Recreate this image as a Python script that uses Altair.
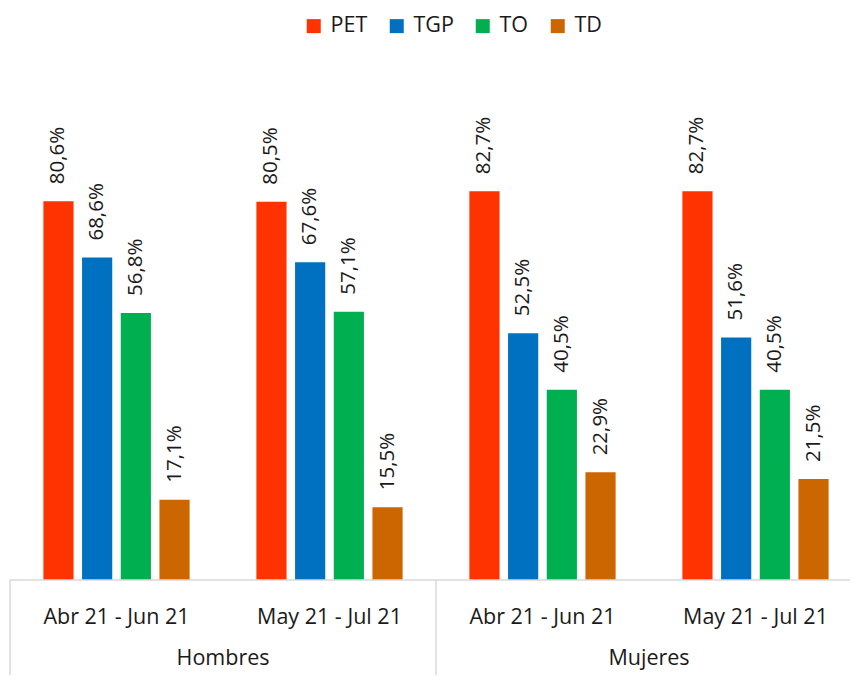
import altair as alt
import pandas as pd

groups = ["Hombres", "Hombres", "Mujeres", "Mujeres"]
periods = ["Abr 21 - Jun 21", "May 21 - Jul 21", "Abr 21 - Jun 21", "May 21 - Jul 21"]
series = ["PET", "TGP", "TO", "TD"]
colors = ["#FF3300", "#0070C0", "#00B050", "#CC6600"]
pet = [80.6, 80.5, 82.7, 82.7]
tgp = [68.6, 67.6, 52.5, 51.6]
to_ = [56.8, 57.1, 40.5, 40.5]
td = [17.1, 15.5, 22.9, 21.5]

keys = [g + "|" + p for g, p in zip(groups, periods)]
vals = {"PET": pet, "TGP": tgp, "TO": to_, "TD": td}

rows = []
for i, k in enumerate(keys):
    for s in series:
        v = vals[s][i]
        rows.append({"key": k, "series": s, "value": v,
                     "label": f"{v:.1f}".replace(".", ",") + "%"})
df = pd.DataFrame(rows)

W, H = 852, 470
FONT = "Open Sans"
TXT = "#1a1a1a"

xs = alt.Scale(domain=keys, paddingInner=0, paddingOuter=0)
ys = alt.Scale(domain=[0, 100])
xo = alt.Scale(domain=series, paddingInner=0.22, paddingOuter=0.863)

base = alt.Chart(df)
bars = base.mark_bar().encode(
    x=alt.X("key:N", scale=xs, axis=None),
    xOffset=alt.XOffset("series:N", scale=xo, sort=series),
    y=alt.Y("value:Q", scale=ys, axis=None),
    color=alt.Color("series:N", sort=series,
                    scale=alt.Scale(domain=series, range=colors),
                    legend=alt.Legend(title=None, orient="none", direction="horizontal",
                                      legendX=293, legendY=-95,
                                      symbolType="square", symbolSize=196,
                                      symbolStrokeWidth=0,
                                      labelFont=FONT, labelFontSize=21.5, labelColor=TXT,
                                      labelOffset=6, columnPadding=18)),
)
labels = base.mark_text(angle=270, align="left", baseline="middle", dx=17,
                        font=FONT, fontSize=20.5, color=TXT).encode(
    x=alt.X("key:N", scale=xs, axis=None),
    xOffset=alt.XOffset("series:N", scale=xo, sort=series),
    y=alt.Y("value:Q", scale=ys, axis=None),
    text="label:N",
)

axis_df = pd.DataFrame({"zero": [0]})
baseline = alt.Chart(axis_df).mark_rule(color="#d9d9d9", strokeWidth=1.5).encode(
    y=alt.Y("zero:Q", scale=ys, axis=None))

sep_df = pd.DataFrame({"key": [keys[0], keys[2]]})
seps = alt.Chart(sep_df).mark_rule(color="#d9d9d9", strokeWidth=1.5).encode(
    x=alt.X("key:N", scale=xs, axis=None, bandPosition=0),
    y=alt.value(H),
    y2=alt.value(H + 95),
)

per_df = pd.DataFrame({"key": keys, "period": periods})
per_text = alt.Chart(per_df).mark_text(font=FONT, fontSize=21.5, color=TXT,
                                       baseline="middle").encode(
    x=alt.X("key:N", scale=xs, axis=None),
    y=alt.value(H + 38),
    text="period:N",
)

grp_df = pd.DataFrame({"key": [keys[1], keys[3]], "group": ["Hombres", "Mujeres"]})
grp_text = alt.Chart(grp_df).mark_text(font=FONT, fontSize=21.5, color=TXT,
                                       baseline="middle").encode(
    x=alt.X("key:N", scale=xs, axis=None, bandPosition=0),
    y=alt.value(H + 79),
    text="group:N",
)

chart = alt.layer(bars, labels, baseline, seps, per_text, grp_text).properties(
    width=W, height=H,
    autosize=alt.AutoSizeParams(type="none"),
    padding={"left": 2, "top": 102, "right": -12, "bottom": 95},
).configure_view(stroke=None)

chart.save("out.html", embed_options={"renderer": "svg", "actions": False})
